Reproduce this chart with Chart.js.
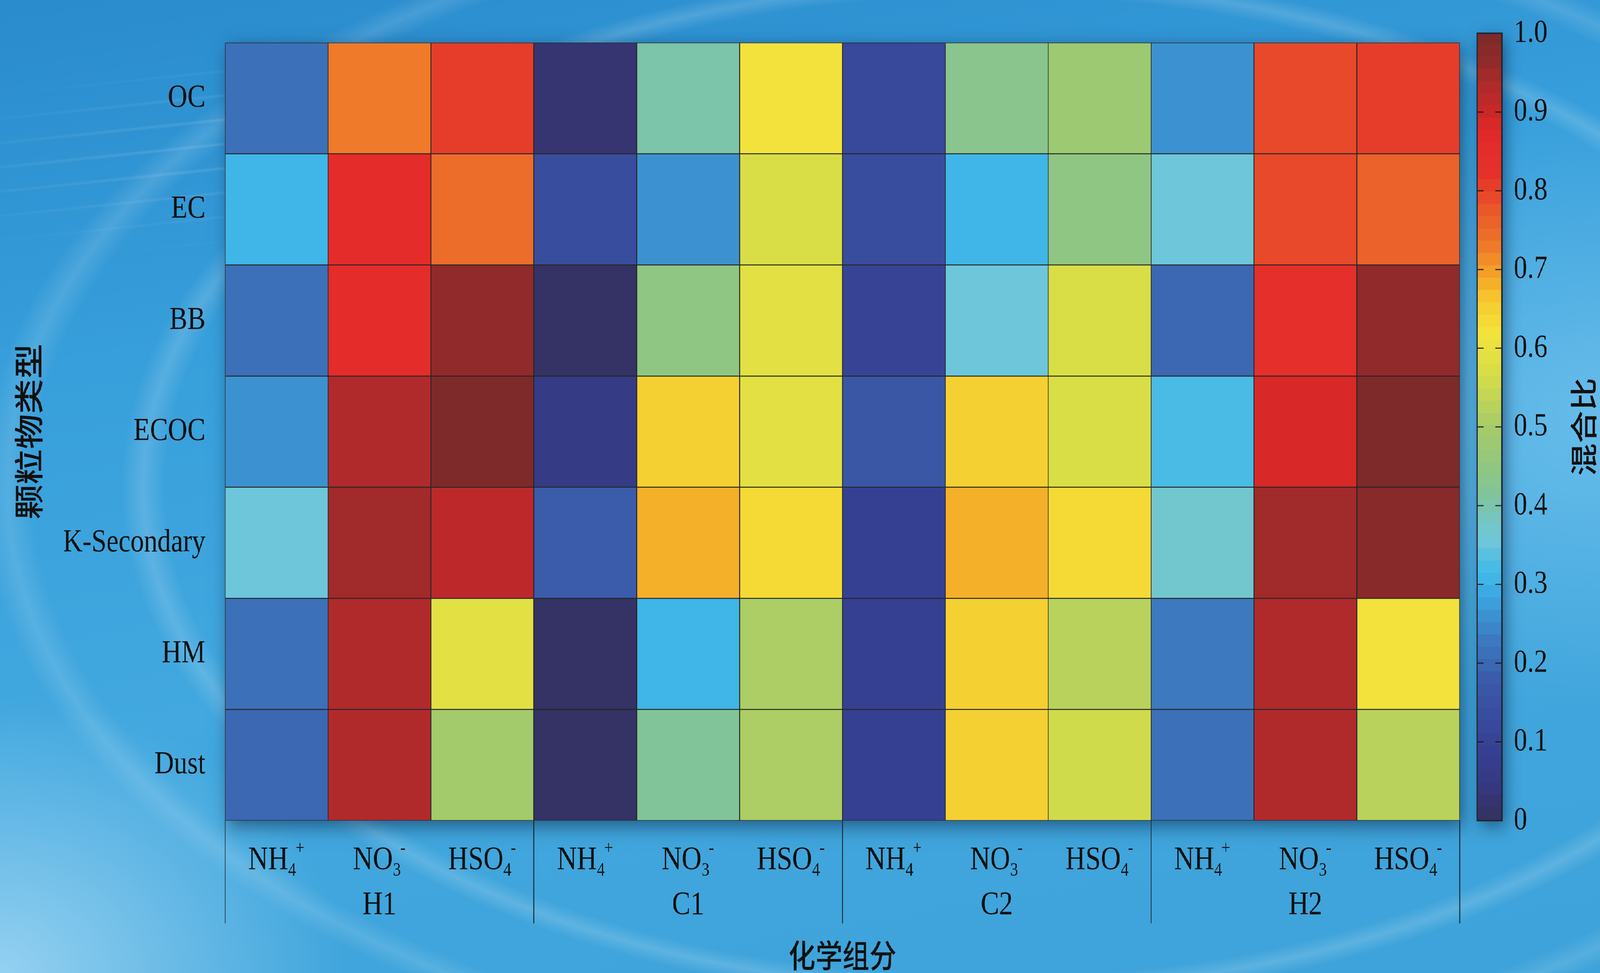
<!DOCTYPE html>
<html lang="zh">
<head>
<meta charset="UTF-8">
<title>颗粒物类型 - 化学组分 混合比</title>
<script src="https://cdn.jsdelivr.net/npm/chart.js@4.4.1/dist/chart.umd.min.js"></script>
<style>
  html, body { margin: 0; padding: 0; }
  body { width: 100vw; height: 100vh; overflow: hidden; background: #3ea3da; }
  #page {
    position: absolute;
    left: 0;
    top: 0;
    width: 4860px;
    height: 2490px;
    overflow: hidden;
    transform-origin: 0 0;
    background:
      radial-gradient(ellipse 1500px 1000px at 0% 100%, rgba(205,238,255,0.6), rgba(205,238,255,0) 70%),
      radial-gradient(ellipse 2700px 1350px at 62% 50%, rgba(255,255,255,0) 93%, rgba(255,255,255,0.16) 95.5%, rgba(255,255,255,0) 98%),
      radial-gradient(ellipse 3100px 1550px at 62% 50%, rgba(255,255,255,0) 94%, rgba(255,255,255,0.13) 96.5%, rgba(255,255,255,0) 99%),
      radial-gradient(ellipse 1700px 1100px at 100% 42%, rgba(150,215,248,0.45), rgba(150,215,248,0) 70%),
      linear-gradient(172deg, #2a8bcd 0%, #379fdb 30%, #42a8df 60%, #3ea3da 100%);
  }
  /* faint light streaks across the top */
  #streaks {
    position: absolute;
    left: -400px;
    top: -300px;
    width: 3400px;
    height: 1000px;
    transform: rotate(-5deg);
    background: repeating-linear-gradient(180deg, rgba(255,255,255,0) 0px, rgba(255,255,255,0) 50px, rgba(255,255,255,0.12) 56px, rgba(255,255,255,0) 62px);
    -webkit-mask-image: radial-gradient(ellipse 1600px 380px at 35% 62%, #000 20%, transparent 75%);
    mask-image: radial-gradient(ellipse 1600px 380px at 35% 62%, #000 20%, transparent 75%);
  }
  canvas { position: absolute; left: 0; top: 0; }
</style>
</head>
<body>
<div id="page">
  <div id="streaks"></div>
  <canvas id="heatmapChart" width="4860" height="2490"></canvas>
  <canvas id="colorbarChart" width="4860" height="2490"></canvas>
</div>
<script>
// ---- data ----
const particleTypes = ['OC', 'EC', 'BB', 'ECOC', 'K-Secondary', 'HM', 'Dust'];
const ions = ['NH4+', 'NO3-', 'HSO4-'];
const periods = ['H1', 'C1', 'C2', 'H2'];

// mixing ratio per particle type, columns: H1(NH4,NO3,HSO4) C1(...) C2(...) H2(...)
const valuesOC         = [0.21, 0.725, 0.81, 0.03, 0.395, 0.615, 0.11, 0.43, 0.47, 0.255, 0.79, 0.81];
const valuesEC         = [0.30, 0.85, 0.745, 0.14, 0.255, 0.565, 0.14, 0.30, 0.44, 0.355, 0.79, 0.765];
const valuesBB         = [0.21, 0.85, 0.96, 0.015, 0.44, 0.59, 0.10, 0.355, 0.565, 0.20, 0.84, 0.96];
const valuesECOC       = [0.255, 0.93, 0.99, 0.05, 0.645, 0.59, 0.16, 0.645, 0.565, 0.32, 0.89, 0.99];
const valuesKSecondary = [0.355, 0.945, 0.91, 0.18, 0.68, 0.625, 0.08, 0.68, 0.625, 0.37, 0.945, 0.97];
const valuesHM         = [0.21, 0.93, 0.59, 0.015, 0.30, 0.51, 0.09, 0.645, 0.525, 0.23, 0.93, 0.61];
const valuesDust       = [0.20, 0.93, 0.49, 0.015, 0.41, 0.51, 0.09, 0.645, 0.55, 0.21, 0.93, 0.525];

const colorbarMin = 0;
const colorbarMax = 1;
const colorbarStep = 0.1;

document.addEventListener('DOMContentLoaded', function() {

    // the layout is drawn at 4860x2490 and scaled to the real viewport
    const page = document.getElementById('page');
    const sx = window.innerWidth / 4860;
    const sy = window.innerHeight / 2490;
    page.style.transform = 'scale(' + sx + ',' + sy + ')';

    const serif = '"Liberation Serif", "Times New Roman", serif';
    const cjk = '"Noto Sans CJK SC", "Noto Sans", sans-serif';
    const textColor = '#111111';

    // Colour map stops (sampled from the colour bar)
    const colorStops = [
        [0.00, '#35305f'], [0.04, '#363880'], [0.08, '#363f90'], [0.11, '#384698'],
        [0.15, '#3a52a2'], [0.18, '#3a5caa'], [0.20, '#3c6ab4'], [0.225, '#3c78be'],
        [0.25, '#3c8ccc'], [0.275, '#3ca0dc'], [0.30, '#3cb4e8'], [0.325, '#4cbce4'],
        [0.35, '#6cc6da'], [0.375, '#74c6c8'], [0.40, '#7cc4a8'], [0.42, '#84c492'],
        [0.45, '#92c680'], [0.50, '#a6cc68'], [0.53, '#bed458'], [0.56, '#d4dc48'],
        [0.60, '#e9e240'], [0.62, '#f5e23a'], [0.64, '#f5d634'], [0.66, '#f6c830'],
        [0.68, '#f5b02a'], [0.70, '#f29a28'], [0.72, '#f0802a'], [0.74, '#ec6e2a'],
        [0.77, '#ea5a2a'], [0.79, '#e8482a'], [0.82, '#e4322a'], [0.86, '#e42a2a'],
        [0.88, '#dc2828'], [0.90, '#c82828'], [0.93, '#b02a2c'], [0.96, '#922a2a'],
        [1.00, '#7a2a2a']
    ];
    const colorLevels = 64;

    function hexToRgb(hex) {
        const n = parseInt(hex.slice(1), 16);
        return [(n >> 16) & 255, (n >> 8) & 255, n & 255];
    }

    function colorAt(t) {
        for (let i = 1; i < colorStops.length; i++) {
            const [t1, c1] = colorStops[i];
            const [t0, c0] = colorStops[i - 1];
            if (t <= t1) {
                const f = (t - t0) / (t1 - t0);
                const a = hexToRgb(c0), b = hexToRgb(c1);
                const rgb = a.map((v, k) => Math.round(v + (b[k] - v) * f));
                return 'rgb(' + rgb.join(',') + ')';
            }
        }
        return colorStops[colorStops.length - 1][1];
    }

    // discrete colour map like the figure
    function valueColor(v) {
        const k = Math.min(colorLevels - 1, Math.max(0, Math.floor(v * colorLevels)));
        return colorAt((k + 0.5) / colorLevels);
    }

    const rowValues = [valuesOC, valuesEC, valuesBB, valuesECOC, valuesKSecondary, valuesHM, valuesDust];

    // 12 columns: every period has the three ions
    const columnLabels = [];
    periods.forEach(function() {
        ions.forEach(function(ion) { columnLabels.push(ion); });
    });

    // Draws an ion label like NH4+ with subscript / superscript
    function drawIon(ctx, label, cx, baseline) {
        const m = label.match(/^([A-Z]+)(\d)([+-])$/);
        const mainFont = '84px ' + serif;
        const smallFont = '48px ' + serif;
        ctx.font = mainFont;
        const w1 = ctx.measureText(m[1]).width;
        ctx.font = smallFont;
        const w2 = ctx.measureText(m[2]).width;
        const w3 = ctx.measureText(m[3]).width;
        let x = cx - (w1 + w2 + w3) / 2;
        ctx.textAlign = 'left';
        ctx.textBaseline = 'alphabetic';
        ctx.font = mainFont;
        ctx.fillText(m[1], x, baseline);
        x += w1;
        ctx.font = smallFont;
        ctx.fillText(m[2], x, baseline + 16);
        x += w2 - 2;
        ctx.fillText(m[3], x, baseline - 40);
    }

    // Shadow behind a chart area
    function drawAreaShadow(chart) {
        const a = chart.chartArea;
        const ctx = chart.ctx;
        ctx.save();
        ctx.shadowColor = 'rgba(8, 30, 60, 0.55)';
        ctx.shadowBlur = 45;
        ctx.shadowOffsetX = 10;
        ctx.shadowOffsetY = 14;
        ctx.fillStyle = '#2a2a2a';
        ctx.fillRect(a.left, a.top, a.right - a.left, a.bottom - a.top);
        ctx.restore();
    }

    const heatmapDecor = {
        id: 'heatmapDecor',
        beforeDatasetsDraw(chart) {
            drawAreaShadow(chart);
        },
        afterDraw(chart) {
            const ctx = chart.ctx;
            const xs = chart.scales.x;
            const area = chart.chartArea;
            ctx.save();
            ctx.fillStyle = textColor;

            // ion labels
            columnLabels.forEach(function(lab, i) {
                drawIon(ctx, lab, xs.getPixelForValue(i), area.bottom + 125);
            });

            // period labels, centred under each group of three
            ctx.font = '84px ' + serif;
            ctx.textAlign = 'center';
            ctx.textBaseline = 'alphabetic';
            periods.forEach(function(p, g) {
                const x = xs.getPixelForValue(g * ions.length + 1);
                ctx.fillText(p, x, area.bottom + 240);
            });

            // group separator lines below the grid
            ctx.strokeStyle = '#1c2631';
            ctx.lineWidth = 2.5;
            for (let g = 0; g <= periods.length; g++) {
                const x = xs.getPixelForValue(g * ions.length - 0.5);
                ctx.beginPath();
                ctx.moveTo(x, area.bottom);
                ctx.lineTo(x, area.bottom + 263);
                ctx.stroke();
            }
            ctx.restore();
        }
    };

    // One dataset per particle type, each cell is a floating bar [row, row + 1]
    const heatmapDatasets = rowValues.map(function(vals, r) {
        return {
            label: particleTypes[r],
            data: vals.map(function() { return [r, r + 1]; }),
            backgroundColor: vals.map(valueColor),
            borderColor: '#262626',
            borderWidth: 1.6,
            borderSkipped: false,
            grouped: false,
            barPercentage: 1,
            categoryPercentage: 1
        };
    });

    new Chart(document.getElementById('heatmapChart').getContext('2d'), {
        type: 'bar',
        data: { labels: columnLabels, datasets: heatmapDatasets },
        options: {
            responsive: false,
            animation: false,
            devicePixelRatio: 1,
            layout: { padding: { left: 0, right: 426, top: 80, bottom: 0 } },
            plugins: { legend: { display: false }, tooltip: { enabled: false } },
            scales: {
                x: {
                    type: 'category',
                    grid: { display: false, drawTicks: false },
                    border: { display: false },
                    ticks: { display: false },
                    title: {
                        display: true,
                        text: '化学组分',
                        color: textColor,
                        font: { family: cjk, size: 82, weight: '500', lineHeight: 1 },
                        padding: { top: 0, bottom: 4 }
                    },
                    afterFit: function(scale) { scale.height = 390; }
                },
                y: {
                    type: 'linear',
                    min: 0,
                    max: particleTypes.length,
                    reverse: true,
                    grid: { display: false, drawTicks: false },
                    border: { display: false },
                    afterBuildTicks: function(scale) {
                        scale.ticks = particleTypes.map(function(_, i) { return { value: i + 0.5 }; });
                    },
                    ticks: {
                        color: textColor,
                        font: { family: serif, size: 82 },
                        padding: 60,
                        callback: function(value, index) { return particleTypes[index]; }
                    },
                    title: {
                        display: true,
                        text: '颗粒物类型',
                        color: textColor,
                        font: { family: cjk, size: 90, weight: '500', lineHeight: 1.2 },
                        padding: { top: 33, bottom: 0 }
                    },
                    afterFit: function(scale) { scale.width = 684; }
                }
            }
        },
        plugins: [heatmapDecor]
    });

    // ---- colour bar ----
    const colorbarDecor = {
        id: 'colorbarDecor',
        beforeDatasetsDraw(chart) {
            drawAreaShadow(chart);
        },
        afterDatasetsDraw(chart) {
            const ctx = chart.ctx;
            const a = chart.chartArea;
            const ys = chart.scales.y;
            ctx.save();
            ctx.strokeStyle = 'rgba(20, 20, 20, 0.85)';
            ctx.lineWidth = 3;
            ys.ticks.forEach(function(t) {
                const y = ys.getPixelForValue(t.value);
                ctx.beginPath();
                ctx.moveTo(a.left, y);
                ctx.lineTo(a.left + 20, y);
                ctx.moveTo(a.right - 20, y);
                ctx.lineTo(a.right, y);
                ctx.stroke();
            });
            ctx.strokeStyle = '#1e2a36';
            ctx.lineWidth = 4;
            ctx.strokeRect(a.left, a.top, a.right - a.left, a.bottom - a.top);
            ctx.restore();
        },
        afterDraw(chart) {
            const ctx = chart.ctx;
            const a = chart.chartArea;
            ctx.save();
            ctx.translate(a.right + 248, (a.top + a.bottom) / 2);
            ctx.rotate(-Math.PI / 2);
            ctx.font = '500 84px ' + cjk;
            ctx.fillStyle = textColor;
            ctx.textAlign = 'center';
            ctx.textBaseline = 'middle';
            ctx.fillText('混合比', 0, 0);
            ctx.restore();
        }
    };

    const levelIndex = Array.from({ length: colorLevels }, function(_, k) { return k; });
    const colorbarDatasets = levelIndex.map(function(k) {
        const lo = colorbarMin + (colorbarMax - colorbarMin) * k / colorLevels;
        const hi = colorbarMin + (colorbarMax - colorbarMin) * (k + 1) / colorLevels;
        return {
            data: [[lo, Math.min(colorbarMax, hi + 0.002)]],
            backgroundColor: colorAt((k + 0.5) / colorLevels),
            borderWidth: 0,
            grouped: false,
            barPercentage: 1,
            categoryPercentage: 1
        };
    });

    new Chart(document.getElementById('colorbarChart').getContext('2d'), {
        type: 'bar',
        data: { labels: [''], datasets: colorbarDatasets },
        options: {
            responsive: false,
            animation: false,
            devicePixelRatio: 1,
            layout: { padding: { left: 4487, right: 0, top: 80, bottom: 390 } },
            plugins: { legend: { display: false }, tooltip: { enabled: false } },
            scales: {
                x: { display: false },
                y: {
                    position: 'right',
                    min: colorbarMin,
                    max: colorbarMax,
                    grid: { display: false, drawTicks: false },
                    border: { display: false },
                    ticks: {
                        stepSize: colorbarStep,
                        color: textColor,
                        font: { family: serif, size: 82 },
                        padding: 36,
                        callback: function(value) {
                            return value === 0 ? '0' : value.toFixed(1);
                        }
                    },
                    afterFit: function(scale) { scale.width = 298; }
                }
            }
        },
        plugins: [colorbarDecor]
    });
});
</script>
</body>
</html>
